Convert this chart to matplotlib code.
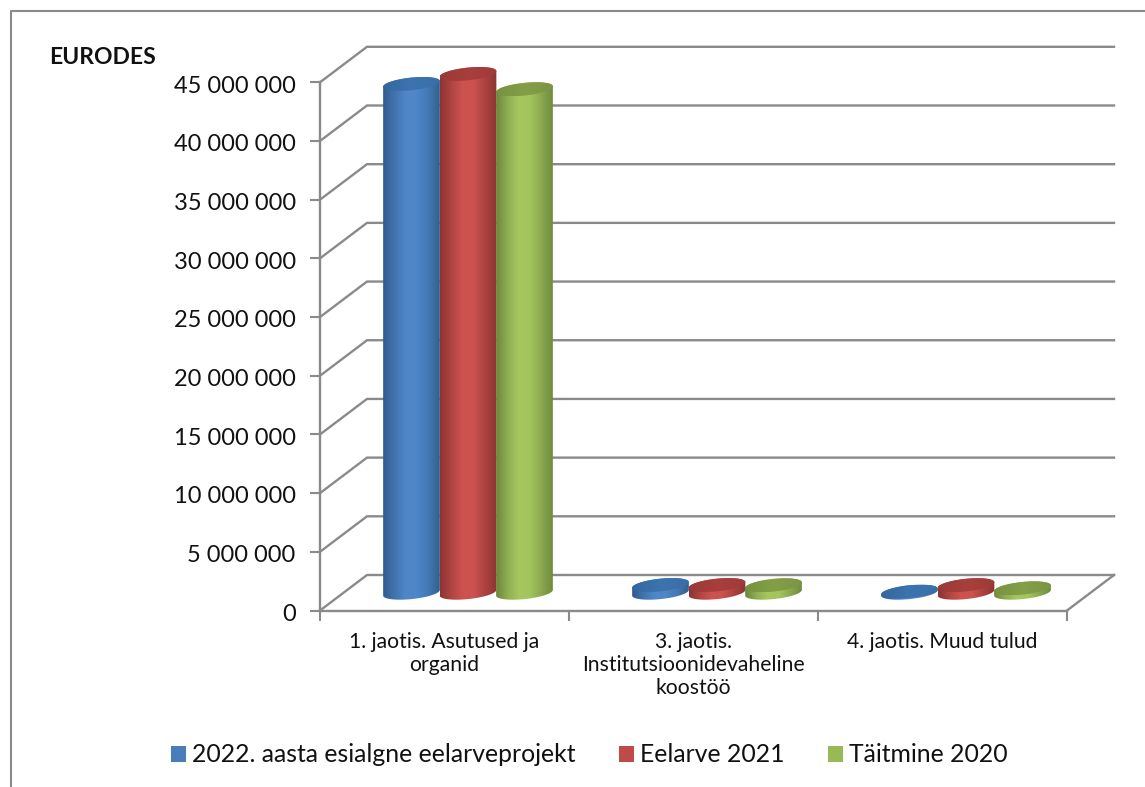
import numpy as np
import matplotlib
matplotlib.use("Agg")
import matplotlib.pyplot as plt
from matplotlib.colors import LinearSegmentedColormap
from matplotlib.lines import Line2D
from matplotlib.patches import Patch, Polygon
from matplotlib.transforms import ScaledTranslation

categories = ["1. jaotis. Asutused ja\norganid",
              "3. jaotis.\nInstitutsioonidevaheline\nkoostöö",
              "4. jaotis. Muud tulud"]
series_names = ["2022. aasta esialgne eelarveprojekt", "Eelarve 2021", "Täitmine 2020"]
budget_2022 = [43350000, 660000, 100000]
budget_2021 = [44200000, 660000, 650000]
actual_2020 = [42900000, 640000, 380000]
y_ticks = list(range(0, 45000001, 5000000))

series_values = [budget_2022, budget_2021, actual_2020]
legend_colors = ["#4a7ebb", "#be4b48", "#98b954"]
side_ramps = [["#2f5b8f", "#4174ae", "#4f87c9", "#4e86c8", "#4378b3", "#33608f"],
              ["#8c3432", "#b04542", "#cd5350", "#cb524f", "#aa4240", "#8e3533"],
              ["#6b873a", "#8fae52", "#a5c75e", "#a3c55d", "#8aa84e", "#6f8c3d"]]
cap_ramps = [["#34679f", "#3c74b0", "#3a6ea8"],
             ["#9a3937", "#a83f3c", "#a03b39"],
             ["#76923f", "#839f48", "#7a9642"]]
GREY = "#8a8a8a"

plt.rcParams["font.family"] = ["Lato", "DejaVu Sans"]
W, H = 1145, 787
fig = plt.figure(figsize=(W / 100, H / 100), dpi=100, facecolor="white")
L, R, T, B = 320, 1067, 82.3, 610.5
ax = fig.add_axes([L / W, 1 - B / H, (R - L) / W, (B - T) / H])
ax.set_xlim(0, 3)
ax.set_ylim(0, 45000000)
ax.patch.set_alpha(0)

px_x = (R - L) / 3
px_y = (B - T) / 45000000
DX, DY = 47 / px_x, 35.5 / px_y

# walls and floor
for v in y_ticks:
    ax.plot([0, DX, 3 + DX], [v, v + DY, v + DY], color=GREY, lw=1.7, clip_on=False, zorder=1,
            solid_joinstyle="miter")
ax.plot([3, 3 + DX], [0, DY], color=GREY, lw=1.7, clip_on=False, zorder=1)

for s in ("top", "right"):
    ax.spines[s].set_visible(False)
for s in ("left", "bottom"):
    ax.spines[s].set_color(GREY)
    ax.spines[s].set_linewidth(1.7)
    ax.spines[s].set_zorder(1.5)
ax.set_yticks(y_ticks)
ax.set_yticklabels([f"{v:,}".replace(",", " ") for v in y_ticks], fontsize=17.0, color="#111111")
ax.set_xticks([0, 1, 2, 3])
ax.set_xticklabels([])
ax.set_xticks([0.5, 1.5, 2.5], minor=True)
ax.set_xticklabels(categories, minor=True, fontsize=15.2, color="#111111", linespacing=1.2)
ax.tick_params(axis="y", length=7, width=1.5, color=GREY, pad=10.5)
ax.tick_params(axis="x", which="major", length=7, width=1.5, color=GREY)
ax.tick_params(axis="x", which="minor", length=0, pad=15.5)
for lab in ax.get_xticklabels(minor=True):
    lab.set_verticalalignment("top")
shift = ScaledTranslation(0, -1.8 / 100, fig.dpi_scale_trans)
for lab in ax.get_yticklabels():
    lab.set_transform(lab.get_transform() + shift)

A, Bm, TH = 28.5, 6.3, np.radians(6)


def ellipse(cx, v, t):
    ox = A * np.cos(t) * np.cos(TH) - Bm * np.sin(t) * np.sin(TH)
    oy = A * np.cos(t) * np.sin(TH) + Bm * np.sin(t) * np.cos(TH)
    return np.column_stack([cx + ox / px_x, v + oy / px_y])


T0 = np.arctan(-(Bm / A) * np.tan(TH))
FULL = np.linspace(0, 2 * np.pi, 90)
UP = np.linspace(T0, T0 + np.pi, 50)
DOWN = np.linspace(T0 + np.pi, T0 + 2 * np.pi, 50)
BASE = DY / 2
BAR_STEP = 56.5 / px_x


def gradient(poly_pts, ramp, z):
    cmap = LinearSegmentedColormap.from_list("r", ramp)
    xs, ys = poly_pts[:, 0], poly_pts[:, 1]
    im = ax.imshow(np.linspace(0, 1, 128)[None, :], cmap=cmap, aspect="auto", zorder=z,
                   extent=[xs.min(), xs.max(), ys.min(), ys.max()], interpolation="bilinear")
    clip = Polygon(poly_pts, closed=True, transform=ax.transData, fc="none", ec="none")
    im.set_clip_box(fig.bbox)
    im.set_clip_path(clip)


z = 3.0
for c in range(3):
    for i, vals in enumerate(series_values):
        cx = c + 0.5 + DX / 2 + (i - 1) * BAR_STEP
        top = vals[c] + BASE
        body = np.vstack([ellipse(cx, top, UP), ellipse(cx, BASE, DOWN)])
        gradient(body, side_ramps[i], z)
        gradient(ellipse(cx, top, FULL), cap_ramps[i], z + 0.01)
        z += 0.1
ax.set_xlim(0, 3)
ax.set_ylim(0, 45000000)

# chart frame
fig.add_artist(Line2D([11 / W, 11 / W, 1], [0, 1 - 10.5 / H, 1 - 10.5 / H], color=GREY, lw=1.5))

fig.text(49 / W, 1 - 58 / H, "EURODES", fontsize=16.5, fontweight="bold", color="#111111",
         ha="left", va="center")

handles = [Patch(facecolor=col, edgecolor="none") for col in legend_colors]
fig.legend(handles, series_names, loc="center", bbox_to_anchor=(589.5 / W, 1 - 755 / H), ncol=3,
           frameon=False, fontsize=17.8, handlelength=0.6, handleheight=0.6, handletextpad=0.25,
           columnspacing=1.75, labelcolor="#111111", borderpad=0)

fig.savefig("out.png", dpi=100, facecolor="white")
